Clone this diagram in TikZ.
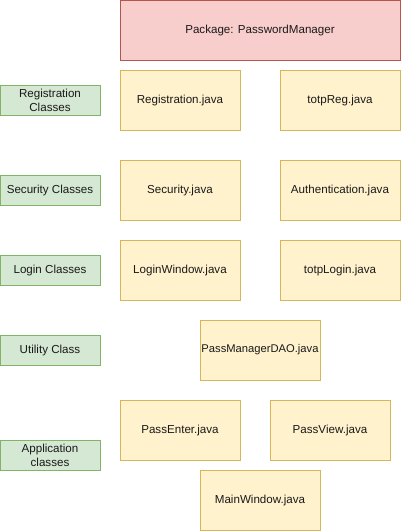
\documentclass[tikz,border=0pt]{standalone}
\usepackage{fontspec}
\setmainfont{Liberation Sans}
\definecolor{yf}{HTML}{FFF2CC}\definecolor{ys}{HTML}{D6B656}
\definecolor{gf}{HTML}{D5E8D4}\definecolor{gs}{HTML}{82B366}
\definecolor{rf}{HTML}{F8CECC}\definecolor{rs}{HTML}{B85450}
\definecolor{tx}{HTML}{1A1A1A}
\begin{document}
\begin{tikzpicture}[x=1pt,y=-1pt,
  base/.style={draw,line width=1pt,inner sep=0pt,align=center,text=tx,font=\fontsize{11.6}{13.8}\selectfont},
  cls/.style={base,fill=yf,draw=ys,minimum width=120pt,minimum height=60pt},
  grp/.style={base,fill=gf,draw=gs,minimum width=100pt,minimum height=30pt},
  pkg/.style={base,fill=rf,draw=rs,minimum width=280pt,minimum height=60pt}]
\useasboundingbox (0,0) rectangle (401,531);
\node[pkg] (pkg) at (260,30) {Package: PasswordManager};
\node[cls] (reg) at (180,100) {Registration.java};
\node[cls] (treg) at (340,100) {totpReg.java};
\node[cls] (sec) at (180,190) {Security.java};
\node[cls] (auth) at (340,190) {Authentication.java};
\node[cls] (login) at (180,270) {LoginWindow.java};
\node[cls] (tlogin) at (340,270) {totpLogin.java};
\node[cls, font=\fontsize{11.2}{13.8}\selectfont] (dao) at (260,350) {PassManagerDAO.java};
\node[cls] (enter) at (180,430) {PassEnter.java};
\node[cls] (view) at (330,430) {PassView.java};
\node[cls] (main) at (260,500) {MainWindow.java};
\node[grp] (greg) at (50,100) {Registration\\Classes};
\node[grp] (gsec) at (50,190) {Security Classes};
\node[grp] (glog) at (50,270) {Login Classes};
\node[grp] (gutil) at (50,350) {Utility Class};
\node[grp] (gapp) at (50,455) {Application\\classes};
\end{tikzpicture}
\end{document}
